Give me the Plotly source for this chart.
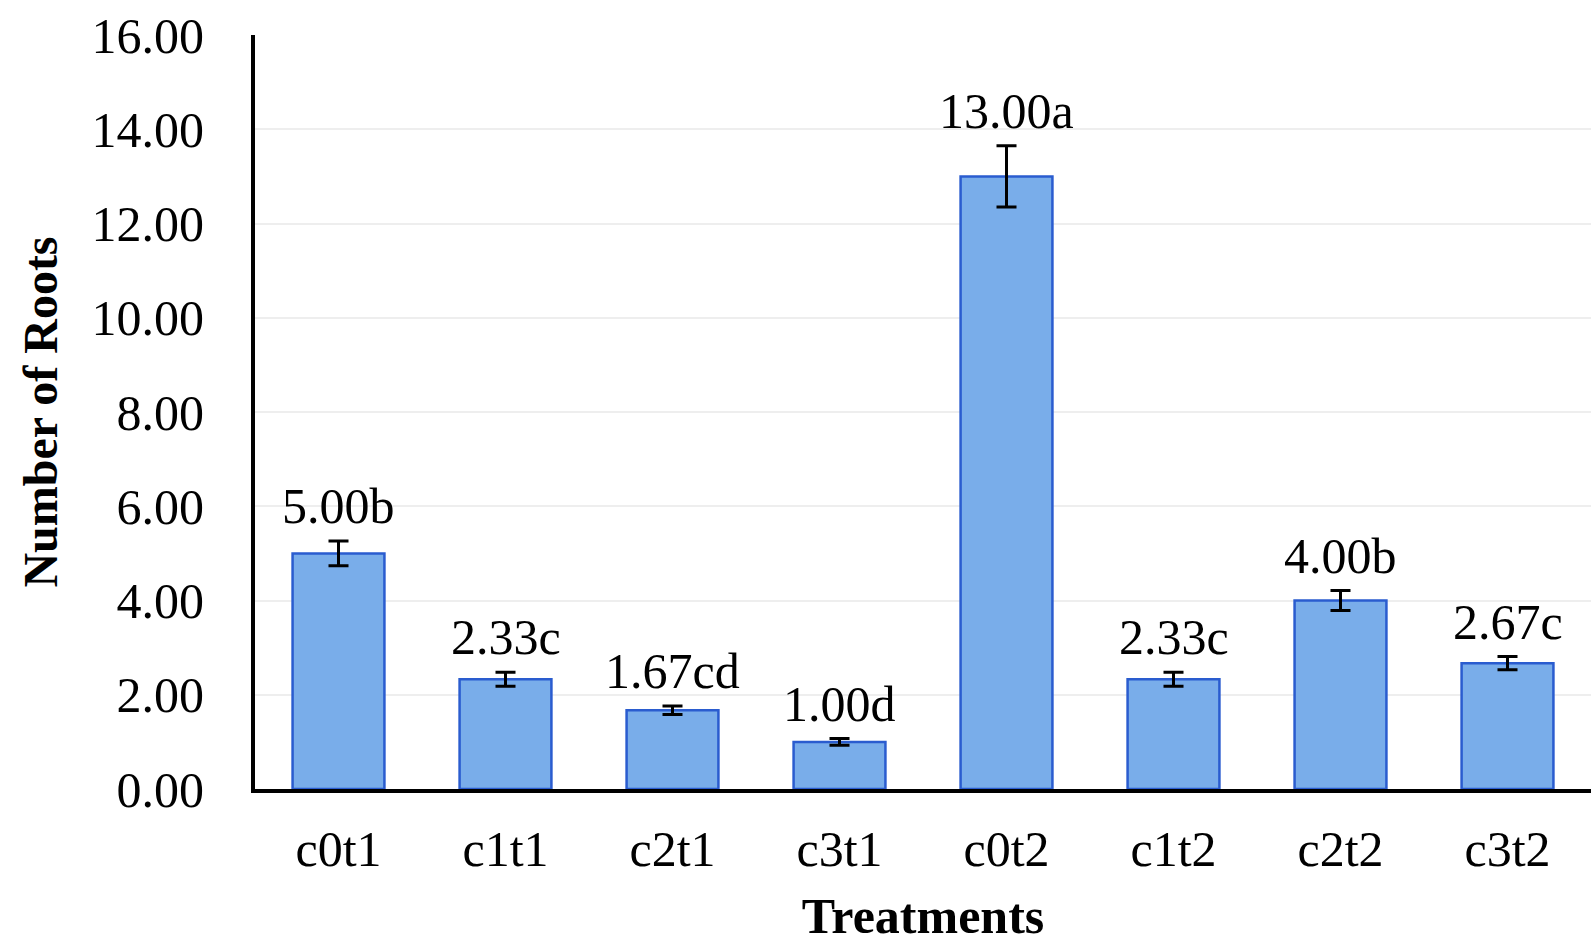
import plotly.graph_objects as go

categories = ["c0t1", "c1t1", "c2t1", "c3t1", "c0t2", "c1t2", "c2t2", "c3t2"]
means = [5.00, 2.33, 1.67, 1.00, 13.00, 2.33, 4.00, 2.67]
errors = [0.26, 0.15, 0.09, 0.07, 0.65, 0.15, 0.21, 0.14]
letters = ["b", "c", "cd", "d", "a", "c", "b", "c"]
y_ticks = [0, 2, 4, 6, 8, 10, 12, 14, 16]

FONT = "Liberation Serif, Times New Roman, serif"

fig = go.Figure()
fig.add_trace(go.Bar(
    x=categories, y=means,
    marker=dict(color="#79adea", line=dict(color="#2a5ccf", width=2.5)),
    error_y=dict(type="data", array=errors, visible=True,
                 color="black", thickness=3, width=10),
    width=0.55,
    hoverinfo="skip",
))

for c, m, e, l in zip(categories, means, errors, letters):
    fig.add_annotation(x=c, y=m + e, text=f"{m:.2f}{l}", showarrow=False,
                       yanchor="bottom", yshift=5,
                       font=dict(family=FONT, size=50, color="black"))

fig.update_layout(
    width=1595, height=945,
    margin=dict(l=255, r=4, t=35, b=156),
    plot_bgcolor="white", paper_bgcolor="white",
    showlegend=False,
    bargap=0.45,
    font=dict(family=FONT, color="black"),
)
fig.update_xaxes(
    showline=True, linecolor="black", linewidth=4,
    tickfont=dict(family=FONT, size=50, color="black"),
    ticks="", ticklabelstandoff=13,
    title=dict(text="<b>Treatments</b>", font=dict(family=FONT, size=50, color="black"), standoff=23),
    automargin=False,
)
fig.update_yaxes(
    range=[0, 16], tickvals=y_ticks, ticktext=[f"{v:.2f}" for v in y_ticks],
    showline=True, linecolor="black", linewidth=4,
    showgrid=True, gridcolor="#eeeeee", gridwidth=2,
    zeroline=False,
    tickfont=dict(family=FONT, size=50, color="black"),
    ticks="", ticklabelstandoff=37,
    title=dict(text="<b>Number of Roots</b>", font=dict(family=FONT, size=48, color="black"), standoff=20),
    automargin=False,
)

fig.write_html("out.html")
